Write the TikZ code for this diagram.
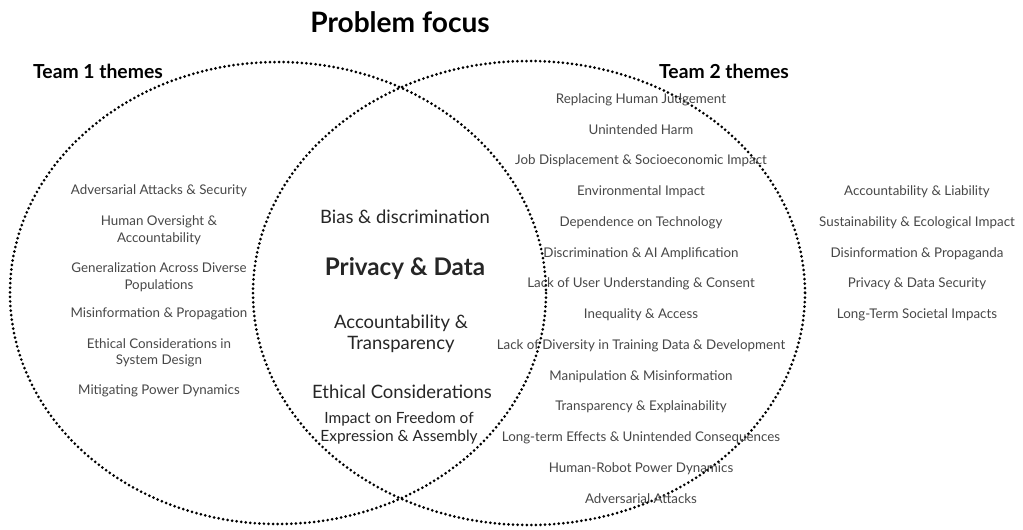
\documentclass[tikz,border=0pt]{standalone}
\usepackage{fontspec}
\setmainfont{Lato}
\usetikzlibrary{positioning}

\begin{document}
\begin{tikzpicture}[x=0.02cm, y=-0.02cm,
    theme/.style={align=center, text=black!72, font=\fontsize{7.6}{9.4}\selectfont, inner sep=0pt},
    shared/.style={align=center, text=black!85, font=\fontsize{10.5}{12.2}\selectfont, inner sep=0pt},
    heading/.style={font=\bfseries\fontsize{11}{13}\selectfont, inner sep=0pt},
    venn/.style={line width=1.7pt, dash pattern=on 0pt off 2.6pt, line cap=round}]
    \useasboundingbox (0,0) rectangle (1023,529);

    % the two sets
    \draw [venn] (278,293) ellipse [x radius=268, y radius=231];
    \draw [venn] (529,293) ellipse [x radius=276, y radius=232];

    \node [heading, font=\bfseries\fontsize{16}{18}\selectfont] (title) at (400,22) {Problem focus};
    \node [heading] (team1) at (98,71) {Team 1 themes};
    \node [heading] (team2) at (724,71) {Team 2 themes};

    % team 1 only
    \node [theme] (t1a) at (159,191) {Adversarial Attacks \& Security};
    \node [theme] (t1b) at (159,230) {Human Oversight \&\\Accountability};
    \node [theme] (t1c) at (159,277) {Generalization Across Diverse\\Populations};
    \node [theme] (t1d) at (159,314) {Misinformation \& Propagation};
    \node [theme] (t1e) at (159,353) {Ethical Considerations in\\System Design};
    \node [theme] (t1f) at (159,391) {Mitigating Power Dynamics};

    % overlap
    \node [shared] (bias) at (405,217) {Bias \& discrimination};
    \node [shared, font=\bfseries\fontsize{13.8}{16}\selectfont] (privacy) at (405,269) {Privacy \& Data};
    \node [shared] (account) at (401,334) {Accountability \&\\Transparency};
    \node [shared] (ethics) at (402,392) {Ethical Considerations};
    \node [shared, font=\fontsize{8.8}{10.2}\selectfont] (freedom) at (399,428) {Impact on Freedom of\\Expression \& Assembly};

    % team 2, inside the circle
    \node [theme] (t2a) at (641,100) {Replacing Human Judgement};
    \node [theme] (t2b) at (641,130) {Unintended Harm};
    \node [theme] (t2c) at (641,161) {Job Displacement \& Socioeconomic Impact};
    \node [theme] (t2d) at (641,192) {Environmental Impact};
    \node [theme] (t2e) at (641,223) {Dependence on Technology};
    \node [theme] (t2f) at (641,254) {Discrimination \& AI Amplification};
    \node [theme] (t2g) at (641,284) {Lack of User Understanding \& Consent};
    \node [theme] (t2h) at (641,315) {Inequality \& Access};
    \node [theme] (t2i) at (641,346) {Lack of Diversity in Training Data \& Development};
    \node [theme] (t2j) at (641,377) {Manipulation \& Misinformation};
    \node [theme] (t2k) at (641,407) {Transparency \& Explainability};
    \node [theme] (t2l) at (641,438) {Long-term Effects \& Unintended Consequences};
    \node [theme] (t2m) at (641,469) {Human-Robot Power Dynamics};
    \node [theme] (t2n) at (641,499) {Adversarial Attacks};

    % team 2, outside
    \node [theme] (t2o) at (917,192) {Accountability \& Liability};
    \node [theme] (t2p) at (917,223) {Sustainability \& Ecological Impact};
    \node [theme] (t2q) at (917,254) {Disinformation \& Propaganda};
    \node [theme] (t2r) at (917,284) {Privacy \& Data Security};
    \node [theme] (t2s) at (917,315) {Long-Term Societal Impacts};
\end{tikzpicture}
\end{document}
